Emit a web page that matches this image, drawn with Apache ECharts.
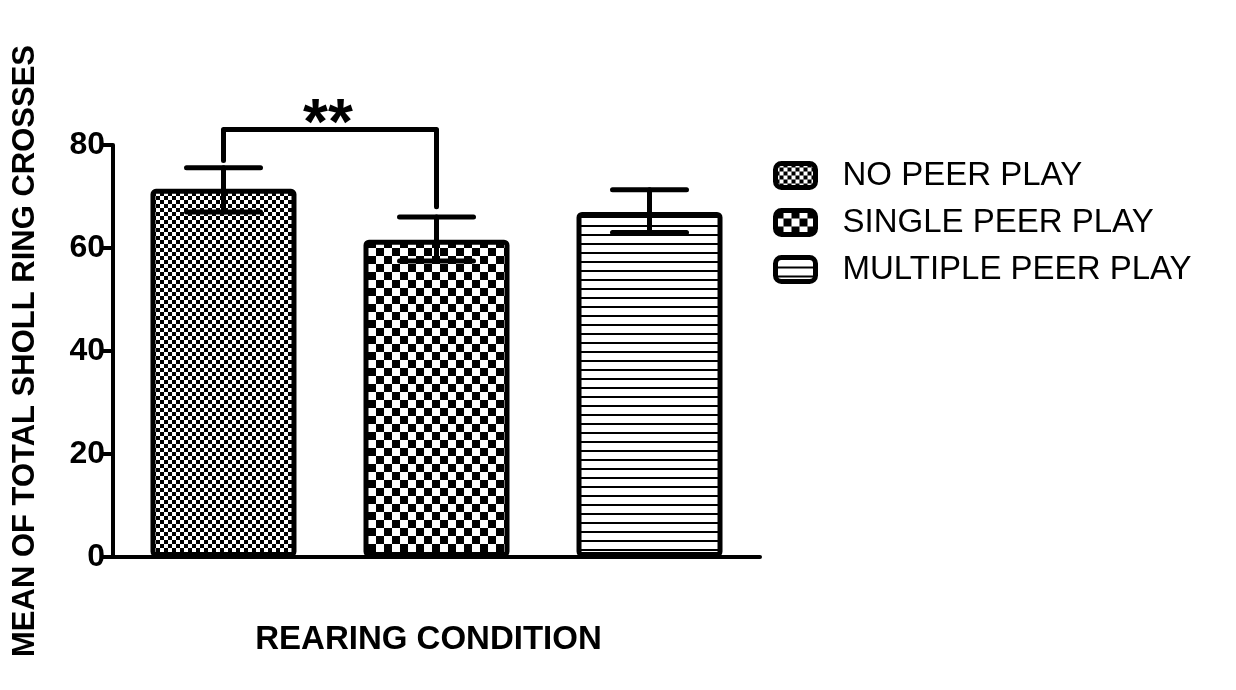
<!DOCTYPE html>
<html>
<head>
<meta charset="UTF-8">
<title>Sholl ring crosses</title>
<script src="https://cdn.jsdelivr.net/npm/echarts@6/dist/echarts.min.js"></script>
<style>html,body{margin:0;background:#fff}#main{width:1236px;height:690px}</style>
</head>
<body>
<div id="main"></div>
<script>
var categories = ['REARING CONDITION'];
var groups = ['NO PEER PLAY', 'SINGLE PEER PLAY', 'MULTIPLE PEER PLAY'];
var means = [71.5, 61.6, 67.0];
var errLow = [67.0, 57.5, 63.0];
var errHigh = [75.6, 66.0, 71.3];
var yTicks = [0, 20, 40, 60, 80];
var sigPair = [0, 1];
var sigTop = 83;
var sigLegs = [77, 68];
var sigLabel = '**';

var FONT = '"Liberation Sans", Arial, sans-serif';
var BAR_W = 146, BORDER = 5, GAP = 67;   // gap between bars (px)
var STEP = BAR_W + GAP;

// fill patterns drawn on small canvases
function makePattern(kind) {
    var c = document.createElement('canvas');
    var ctx;
    if (kind == 'fine' || kind == 'coarse') {
        var s = kind == 'fine' ? 4 : 8;
        c.width = c.height = s * 2;
        ctx = c.getContext('2d');
        ctx.fillStyle = '#fff'; ctx.fillRect(0, 0, s * 2, s * 2);
        ctx.fillStyle = '#000';
        ctx.fillRect(0, 0, s, s); ctx.fillRect(s, s, s, s);
    } else {
        c.width = 8; c.height = 9;
        ctx = c.getContext('2d');
        ctx.fillStyle = '#fff'; ctx.fillRect(0, 0, 8, 9);
        ctx.fillStyle = '#000'; ctx.fillRect(0, 0, 8, 2);
    }
    return { image: c, repeat: 'repeat' };
}
var patterns = [makePattern('fine'), makePattern('coarse'), makePattern('lines')];

var series = groups.map(function (g, i) {
    return {
        name: g,
        type: 'bar',
        z: 2,
        data: [means[i]],
        barWidth: BAR_W,
        barGap: (GAP / BAR_W * 100).toFixed(1) + '%',
        itemStyle: {
            color: patterns[i],
            borderColor: '#000',
            borderWidth: BORDER,
            borderRadius: 3
        },
        emphasis: { disabled: true }
    };
});

// error bars (mean +/- error), one per group
series.push({
    type: 'custom',
    z: 10,
    clip: false,
    silent: true,
    data: groups.map(function (g, i) { return [0, errLow[i], errHigh[i], i]; }),
    encode: { x: 0, y: [1, 2] },
    renderItem: function (params, api) {
        var k = api.value(3);
        var lo = api.coord([0, api.value(1)]);
        var hi = api.coord([0, api.value(2)]);
        var x = lo[0] + (k - 1) * STEP;
        var hw = 37;
        var st = { stroke: '#000', lineWidth: 5, lineCap: 'round' };
        return {
            type: 'group',
            children: [
                { type: 'line', shape: { x1: x, y1: lo[1], x2: x, y2: hi[1] }, style: st },
                { type: 'line', shape: { x1: x - hw, y1: hi[1], x2: x + hw, y2: hi[1] }, style: st },
                { type: 'line', shape: { x1: x - hw, y1: lo[1], x2: x + hw, y2: lo[1] }, style: st }
            ]
        };
    }
});

// significance bracket
series.push({
    type: 'custom',
    z: 10,
    clip: false,
    silent: true,
    data: [[0, sigTop, sigLegs[0], sigLegs[1]]],
    encode: { x: 0, y: [1] },
    renderItem: function (params, api) {
        var top = api.coord([0, api.value(1)]);
        var l = api.coord([0, api.value(2)]);
        var r = api.coord([0, api.value(3)]);
        var x0 = top[0] + (sigPair[0] - 1) * STEP;
        var x1 = top[0] + (sigPair[1] - 1) * STEP;
        return {
            type: 'group',
            children: [
                {
                    type: 'polyline',
                    shape: { points: [[x0, l[1]], [x0, top[1]], [x1, top[1]], [x1, r[1]]] },
                    style: { stroke: '#000', fill: null, lineWidth: 5, lineCap: 'round', lineJoin: 'round' }
                },
                {
                    type: 'text',
                    x: (x0 + x1) / 2 - 2, y: top[1] + 29,
                    style: { text: sigLabel, fill: '#000', font: 'bold 64px ' + FONT, align: 'center', verticalAlign: 'bottom' }
                }
            ]
        };
    }
});

var chart = echarts.init(document.getElementById('main'));
chart.setOption({
    animation: false,
    backgroundColor: '#fff',
    textStyle: { fontFamily: FONT, color: '#000' },
    grid: { left: 113, right: 476, top: 145, bottom: 133 },
    legend: {
        data: groups,
        orient: 'vertical',
        left: 768,
        top: 154,
        itemWidth: 40,
        itemHeight: 24,
        itemGap: 14,
        icon: 'roundRect',
        selectedMode: false,
        itemStyle: { borderColor: '#000', borderWidth: 5 },
        textStyle: { fontSize: 33, color: '#000', fontFamily: FONT, padding: [0, 0, 0, 22], lineHeight: 33 }
    },
    xAxis: {
        type: 'category',
        data: categories,
        name: categories[0],
        nameLocation: 'middle',
        nameGap: 66,
        nameTextStyle: { fontSize: 33, fontWeight: 'bold', color: '#000', fontFamily: FONT, padding: [0, 16, 0, 0] },
        axisLine: { lineStyle: { color: '#000', width: 4 } },
        axisTick: { alignWithLabel: true, length: 12, lineStyle: { color: '#000', width: 3 } },
        axisLabel: { show: false }
    },
    yAxis: {
        type: 'value',
        min: yTicks[0],
        max: yTicks[yTicks.length - 1],
        interval: yTicks[1] - yTicks[0],
        name: 'MEAN OF TOTAL SHOLL RING CROSSES',
        nameLocation: 'middle',
        nameGap: 72,
        nameTextStyle: { fontSize: 31, fontWeight: 'bold', color: '#000', fontFamily: FONT },
        axisLine: { show: true, lineStyle: { color: '#000', width: 4 } },
        axisTick: { show: true, length: 10, lineStyle: { color: '#000', width: 4 } },
        axisLabel: { fontSize: 32, fontWeight: 'bold', color: '#000', margin: 8, fontFamily: FONT },
        splitLine: { show: false }
    },
    series: series
});
</script>
</body>
</html>
